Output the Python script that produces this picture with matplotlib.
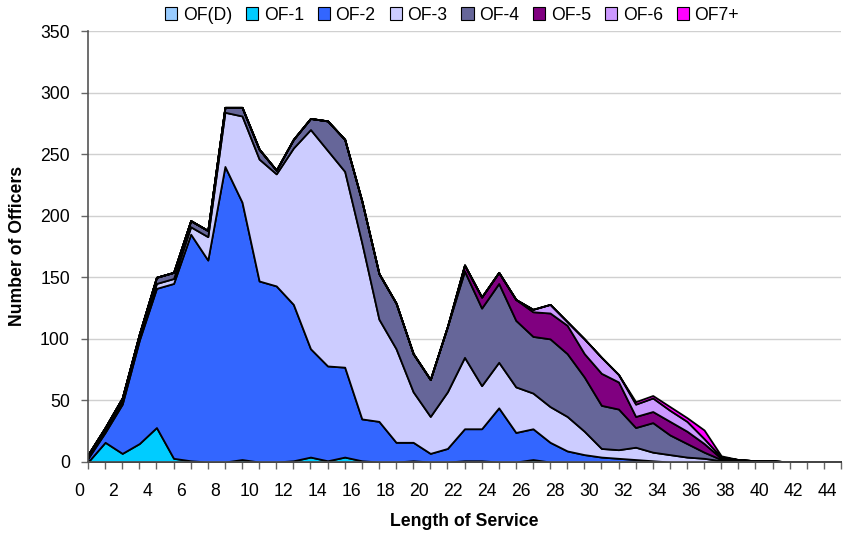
import numpy as np
import matplotlib
matplotlib.use("Agg")
import matplotlib.pyplot as plt
import matplotlib.transforms as mtransforms
from matplotlib.patches import Patch

plt.rcParams['font.family'] = ['Liberation Sans', 'DejaVu Sans']

length_of_service = list(range(0, 45))
series_names = ["OF(D)", "OF-1", "OF-2", "OF-3", "OF-4", "OF-5", "OF-6", "OF7+"]
colors = ["#99CCFF", "#00CCFF", "#3366FF", "#CCCCFF", "#666699", "#800080", "#CC99FF", "#FF00FF"]

of_d = [0] * 45
of_1 = [0, 16, 7, 15, 28, 3, 1, 0, 0, 2, 0, 0, 1, 4, 1, 4, 1, 0, 0, 1,
        0, 0, 1, 1, 0, 0, 2, 0, 0, 0, 0, 0, 0, 0, 0, 0, 0, 0, 0, 0,
        0, 0, 0, 0, 0]
of_2 = [3, 8, 40, 84, 113, 142, 184, 164, 240, 209, 147, 143, 127, 88, 77, 73, 34, 33, 16, 15,
        7, 11, 26, 26, 44, 24, 25, 16, 9, 6, 4, 3, 2, 1, 0, 0, 0, 0, 0, 0,
        0, 0, 0, 0, 0]
of_3 = [1, 2, 3, 3, 4, 4, 6, 19, 44, 70, 99, 91, 127, 178, 175, 159, 143, 83, 76, 41,
        30, 46, 58, 35, 37, 37, 29, 29, 28, 19, 7, 7, 10, 7, 6, 4, 3, 1, 0, 0,
        0, 0, 0, 0, 0]
of_4 = [2, 2, 2, 2, 5, 5, 5, 5, 4, 7, 8, 3, 7, 9, 24, 26, 34, 37, 37, 31,
        30, 53, 70, 63, 64, 54, 46, 55, 51, 44, 35, 33, 16, 24, 16, 11, 5, 1, 1, 0,
        0, 0, 0, 0, 0]
of_5 = [0, 0, 0, 0, 0, 0, 0, 0, 0, 0, 0, 0, 0, 0, 0, 0, 0, 0, 0, 0,
        0, 0, 5, 9, 9, 17, 20, 21, 23, 19, 26, 22, 9, 9, 11, 10, 7, 1, 1, 1,
        1, 0, 0, 0, 0]
of_6 = [0, 0, 0, 0, 0, 0, 0, 0, 0, 0, 0, 0, 0, 0, 0, 0, 0, 0, 0, 0,
        0, 0, 0, 0, 0, 0, 2, 7, 3, 12, 13, 6, 10, 11, 9, 8, 4, 1, 0, 0,
        0, 0, 0, 0, 0]
of_7 = [0, 0, 0, 0, 0, 0, 0, 0, 0, 0, 0, 0, 0, 0, 0, 0, 0, 0, 0, 0,
        0, 0, 0, 0, 0, 0, 0, 0, 0, 0, 0, 0, 2, 2, 3, 3, 7, 1, 0, 0,
        0, 0, 0, 0, 0]

x_tick_labels = [str(k) for k in range(0, 45, 2)]
y_ticks = list(range(0, 351, 50))

fig = plt.figure(figsize=(8.46, 5.36), dpi=100)
ax = fig.add_axes([88 / 846, 1 - 462 / 536, (841 - 88) / 846, (462 - 31) / 536])

ax.stackplot(length_of_service, of_d, of_1, of_2, of_3, of_4, of_5, of_6, of_7,
             colors=colors, edgecolor="black", linewidth=1.3, zorder=3)

# grid
ax.set_yticks(y_ticks)
ax.yaxis.grid(True, color="#D0D0D0", linewidth=1.0, zorder=0)
ax.set_axisbelow(True)
ax.tick_params(axis="y", direction="out", length=5, width=1, color="#666666",
               labelsize=12.7, pad=8)

# x ticks: marks at each integer; labels drawn offset like the original
ax.set_xticks(np.arange(0, 45))
ax.set_xticklabels([])
ax.tick_params(axis="x", direction="out", length=5, width=1, color="#666666")
ax.set_xlim(0, 44)
ax.set_ylim(0, 350)

trans = mtransforms.blended_transform_factory(ax.transData, ax.transAxes)
for k, lab in zip(range(0, 45, 2), x_tick_labels):
    ax.text(-0.5 + 0.993 * k, -30 / 431, lab, transform=trans, ha="center", va="center",
            fontsize=12.7, clip_on=False)

for s in ["top", "right"]:
    ax.spines[s].set_visible(False)
for s in ["left", "bottom"]:
    ax.spines[s].set_color("#555555")
    ax.spines[s].set_linewidth(1.2)
    ax.spines[s].set_zorder(4)

fig.text(17 / 846, 1 - 246 / 536, "Number of Officers", rotation=90, ha="center", va="center",
         fontsize=12.7, fontweight="bold")
fig.text(464 / 846, 1 - 522 / 536, "Length of Service", ha="center", va="center",
         fontsize=12.7, fontweight="bold")

handles = [Patch(facecolor=c, edgecolor="black", linewidth=0.8) for c in colors]
fig.legend(handles, series_names, loc="center", bbox_to_anchor=(452 / 846, 1 - 15 / 536),
           ncol=8, frameon=False, fontsize=12.7, handlelength=0.7, handleheight=0.7,
           handletextpad=0.3, columnspacing=0.8, borderpad=0)

fig.savefig("out.png", dpi=100)
